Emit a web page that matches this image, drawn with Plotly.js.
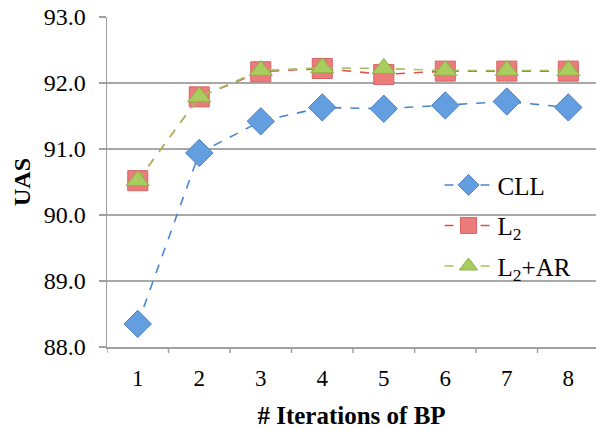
<!DOCTYPE html>
<html>
<head>
<meta charset="utf-8">
<script src="https://cdn.plot.ly/plotly-3.0.1.min.js"></script>
<style>html,body{margin:0;padding:0;background:#fff;}#chart{width:596px;height:430px;}</style>
</head>
<body>
<div id="chart"></div>
<script>
var iterations = [1, 2, 3, 4, 5, 6, 7, 8];
var cll   = [88.35, 90.94, 91.42, 91.63, 91.61, 91.66, 91.72, 91.63];
var l2    = [90.52, 91.79, 92.17, 92.22, 92.13, 92.18, 92.18, 92.18];
var l2ar  = [90.52, 91.79, 92.19, 92.23, 92.22, 92.19, 92.19, 92.19];
var yTickVals = [88, 89, 90, 91, 92, 93];
var yTickText = ['88.0', '89.0', '90.0', '91.0', '92.0', '93.0'];

var serif = "'Liberation Serif', 'Times New Roman', Times, serif";

var traces = [
  {x: iterations, y: cll, name: 'CLL', type: 'scatter', mode: 'lines+markers', legendgroup: 'a',
   line: {color: '#4a86d0', width: 1.6, dash: 'dash'},
   marker: {symbol: 'diamond', size: 21, color: '#639fe0', line: {color: '#4a7fc0', width: 1}}},
  {x: iterations, y: l2, name: 'L<sub>2</sub>', type: 'scatter', mode: 'lines+markers', legendgroup: 'b',
   line: {color: '#d9534f', width: 1.6, dash: 'dash'},
   marker: {symbol: 'square', size: 20, color: '#ec7b7b', line: {color: '#d86262', width: 1}}},
  {x: iterations, y: l2ar, name: 'L<sub>2</sub>+AR', type: 'scatter', mode: 'lines+markers', legendgroup: 'c',
   line: {color: '#a3c25a', width: 1.6, dash: 'dash'},
   marker: {symbol: 'triangle-up', size: 20, color: '#a8cc5e', line: {color: '#8cb048', width: 1}}}
];

var layout = {
  width: 596, height: 430,
  margin: {l: 107, r: 0, t: 17, b: 83},
  paper_bgcolor: '#ffffff', plot_bgcolor: '#ffffff',
  font: {family: serif, color: '#000000', size: 23},
  showlegend: true,
  legend: {x: 0.68, y: 0.56, xanchor: 'left', yanchor: 'top', bgcolor: 'rgba(0,0,0,0)',
           font: {family: serif, size: 25, color: '#000'}, tracegroupgap: 5, traceorder: 'grouped',
           itemwidth: 48},
  xaxis: {
    type: 'linear', range: [0.5, 8.45], tickvals: iterations, ticktext: iterations.map(String),
    showgrid: false, zeroline: false, showline: true, linecolor: '#a0a0a0', linewidth: 1.5,
    ticks: '', tickfont: {family: serif, size: 23}, ticklabelstandoff: 10,
    title: {text: '<b># Iterations of BP</b>', font: {family: serif, size: 25}, standoff: 16}
  },
  yaxis: {
    range: [88, 93], tickvals: yTickVals, ticktext: yTickText,
    showgrid: true, gridcolor: '#a8a8a8', gridwidth: 1.5, zeroline: false,
    showline: true, linecolor: '#a0a0a0', linewidth: 1.5,
    ticks: 'outside', ticklen: 7, tickcolor: '#a0a0a0', tickwidth: 1.5,
    tickfont: {family: serif, size: 24}, ticklabelstandoff: 8,
    title: {text: '<b>UAS</b>', font: {family: serif, size: 24}, standoff: 6}
  },
  shapes: [0.5, 1.5, 2.5, 3.5, 4.5, 5.5, 6.5, 7.5].map(function (b) {
    return {type: 'line', xref: 'x', yref: 'paper', x0: b, x1: b, y0: 0, y1: -0.018,
            line: {color: '#a0a0a0', width: 1.5}};
  })
};

Plotly.newPlot('chart', traces, layout, {staticPlot: true, displayModeBar: false});
</script>
</body>
</html>
